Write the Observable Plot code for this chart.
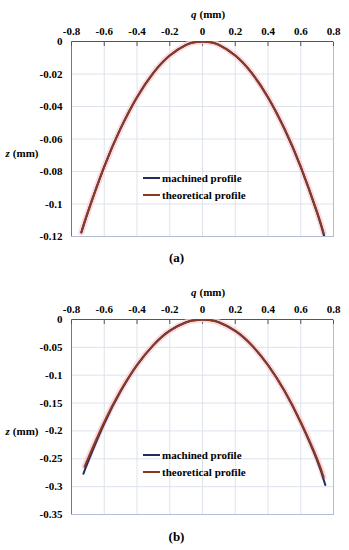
<!DOCTYPE html>
<html><head><meta charset="utf-8">
<script src="https://cdn.jsdelivr.net/npm/d3@7"></script>
<script src="https://cdn.jsdelivr.net/npm/@observablehq/plot@0.6"></script>
<style>
body{margin:0;background:#fff;font-family:"Liberation Serif","Times New Roman",Times,serif;font-weight:bold;color:#000;}
.panel{position:relative;width:349px;}
.cap{width:349px;text-align:center;font-size:13px;padding-left:4px;box-sizing:border-box;}
.legend{position:absolute;left:143px;font-size:11px;}
.row{display:flex;align-items:center;height:17px;white-space:nowrap;}
.sw{width:17px;height:2px;margin-right:2px;}
</style></head><body><div id="root"></div>
<script>
const qTicks = [-0.8, -0.6, -0.4, -0.2, 0, 0.2, 0.4, 0.6, 0.8];
const zTicksA = [0, -0.02, -0.04, -0.06, -0.08, -0.1, -0.12];
const zTicksB = [0, -0.05, -0.1, -0.15, -0.2, -0.25, -0.3, -0.35];
const seriesNames = ["machined profile", "theoretical profile"];
const seriesColors = ["#1f2d5c", "#8a3b1f"];

// Panel (a)
const qMachA = [-0.74, -0.7, -0.6, -0.5, -0.4, -0.3, -0.2, -0.1, -0.05, 0, 0.05, 0.1, 0.2, 0.3, 0.4, 0.5, 0.6, 0.7, 0.745];
const zMachA = [-0.1175, -0.105, -0.077, -0.0535, -0.0343, -0.0193, -0.0086, -0.0021, -0.0005, 0, -0.0005, -0.0021, -0.0086, -0.0193, -0.0344, -0.0537, -0.0773, -0.1055, -0.1205];
const qTheoA = [-0.74, -0.7, -0.6, -0.5, -0.4, -0.3, -0.2, -0.1, -0.05, 0, 0.05, 0.1, 0.2, 0.3, 0.4, 0.5, 0.6, 0.7, 0.74];
const zTheoA = [-0.1175, -0.105, -0.077, -0.0535, -0.0343, -0.0193, -0.0086, -0.0021, -0.0005, 0, -0.0005, -0.0021, -0.0086, -0.0193, -0.0343, -0.0535, -0.077, -0.105, -0.118];

// Panel (b)
const qMachB = [-0.727, -0.7, -0.6, -0.5, -0.4, -0.3, -0.2, -0.1, -0.05, 0, 0.05, 0.1, 0.2, 0.3, 0.4, 0.5, 0.6, 0.7, 0.75];
const zMachB = [-0.277, -0.256, -0.187, -0.129, -0.082, -0.046, -0.02, -0.005, -0.0013, 0, -0.0013, -0.005, -0.0204, -0.046, -0.082, -0.128, -0.185, -0.253, -0.297];
const qTheoB = [-0.72, -0.7, -0.6, -0.5, -0.4, -0.3, -0.2, -0.1, -0.05, 0, 0.05, 0.1, 0.2, 0.3, 0.4, 0.5, 0.6, 0.7, 0.74];
const zTheoB = [-0.264, -0.25, -0.184, -0.1275, -0.0816, -0.0459, -0.0204, -0.0051, -0.0013, 0, -0.0013, -0.0051, -0.0204, -0.0459, -0.0816, -0.1275, -0.184, -0.25, -0.283];

const toRows = (qs, zs) => qs.map((q, i) => ({q, z: zs[i]}));

function makePanel(zTicks, zMin, mach, theo, caption, legendTop) {
  const wrap = document.createElement("div");
  wrap.className = "panel";
  const lineOpts = {x: "q", y: "z", curve: "natural", clip: true};
  const plot = Plot.plot({
    width: 349, height: 246,
    marginLeft: 71, marginRight: 16, marginTop: 41, marginBottom: 10,
    style: {fontFamily: '"Liberation Serif","Times New Roman",Times,serif', fontSize: "11px", fontWeight: "bold", color: "#000", background: "#fff"},
    x: {domain: [-0.8, 0.8]},
    y: {domain: [zMin, 0]},
    marks: [
      Plot.gridX(qTicks, {stroke: "#dde2ec", strokeOpacity: 1}),
      Plot.gridY(zTicks, {stroke: "#dde2ec", strokeOpacity: 1}),
      Plot.frame({stroke: "#b3bcd6"}),
      Plot.ruleY([0], {stroke: "#555"}),
      Plot.ruleX([-0.8], {stroke: "#777"}),
      Plot.axisX(qTicks, {anchor: "top", tickSize: 0, tickPadding: 7, tickFormat: d => String(d), label: null}),
      Plot.axisX(qTicks, {anchor: "top", tickSize: -4, text: null, label: null, stroke: "#555"}),
      Plot.axisY(zTicks, {anchor: "left", tickSize: 0, tickPadding: 9, tickFormat: d => String(d), label: null}),
      Plot.text(["q"], {text: d => d, frameAnchor: "top", textAnchor: "end", dx: -6, dy: -31, fontStyle: "italic", fontSize: 11}),
      Plot.text(["(mm)"], {text: d => d, frameAnchor: "top", textAnchor: "start", dx: -3, dy: -31, fontSize: 11}),
      Plot.text(["z"], {text: d => d, frameAnchor: "left", textAnchor: "start", dx: -66, dy: 14.5, fontStyle: "italic", fontSize: 11}),
      Plot.text(["(mm)"], {text: d => d, frameAnchor: "left", textAnchor: "end", dx: -33, dy: 14.5, fontSize: 11}),
      Plot.line(theo, {...lineOpts, stroke: "#f9cfdc", strokeWidth: 6, strokeOpacity: 0.8}),
      Plot.line(mach, {...lineOpts, stroke: seriesColors[0], strokeWidth: 2}),
      Plot.line(theo, {...lineOpts, stroke: seriesColors[1], strokeWidth: 2})
    ]
  });
  wrap.appendChild(plot);
  const leg = document.createElement("div");
  leg.className = "legend";
  leg.style.top = legendTop + "px";
  seriesNames.forEach((n, i) => {
    const r = document.createElement("div");
    r.className = "row";
    r.innerHTML = `<span class="sw" style="background:${seriesColors[i]}"></span><span>${n}</span>`;
    leg.appendChild(r);
  });
  wrap.appendChild(leg);
  const cap = document.createElement("div");
  cap.className = "cap";
  cap.textContent = caption;
  return [wrap, cap];
}

const root = document.getElementById("root");
const [pa, ca] = makePanel(zTicksA, -0.12, toRows(qMachA, zMachA), toRows(qTheoA, zTheoA), "(a)", 169);
ca.style.height = "32px"; ca.style.lineHeight = "24px";
const [pb, cb] = makePanel(zTicksB, -0.35, toRows(qMachB, zMachB), toRows(qTheoB, zTheoB), "(b)", 168);
cb.style.height = "26px"; cb.style.lineHeight = "26px";
root.append(pa, ca, pb, cb);
</script></body></html>
